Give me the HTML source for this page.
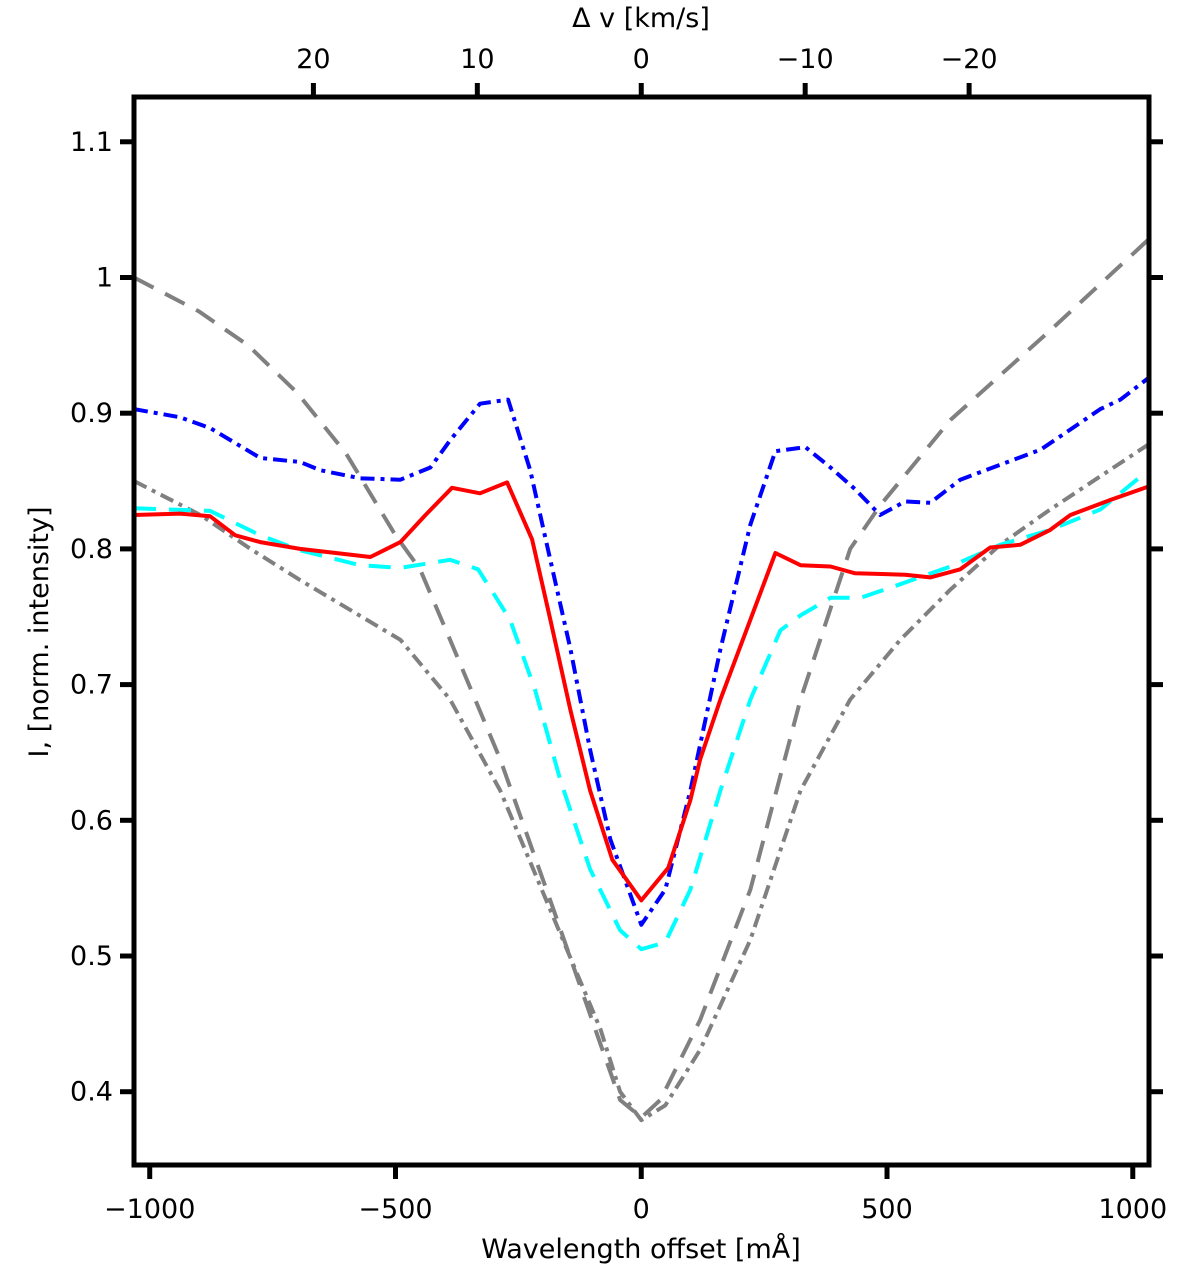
<!DOCTYPE html>
<html><head><meta charset="utf-8"><style>
html,body{margin:0;padding:0;background:#fff;}
svg text{font-family:"DejaVu Sans","Liberation Sans",sans-serif;fill:#000;}
</style></head><body>
<svg id="chart" width="1200" height="1279" xmlns="http://www.w3.org/2000/svg">
<g id="plot"></g>
</svg>
<script>
const xTicks=[-1000,-500,0,500,1000];
const yTicks=[0.4,0.5,0.6,0.7,0.8,0.9,1,1.1];
const yTickLabels=["0.4","0.5","0.6","0.7","0.8","0.9","1","1.1"];
const vTicks=[20,10,0,-10,-20];
const vTickLabels=["20","10","0","\u221210","\u221220"];
const grayDashX=[-1032,-900,-800,-700,-600,-500,-450,-389,-287,-185,-83,-43,0,39,120,222,324,425,486,629,832,1032];
const grayDashY=[1.0,0.975,0.95,0.915,0.87,0.81,0.785,0.733,0.645,0.541,0.435,0.394,0.381,0.394,0.453,0.549,0.689,0.80,0.832,0.895,0.961,1.028];
const grayDotX=[-1032,-897,-795,-694,-490,-389,-287,-185,-83,-43,0,49,120,222,324,425,527,629,730,832,1032];
const grayDotY=[0.85,0.825,0.80,0.777,0.733,0.689,0.622,0.534,0.446,0.40,0.379,0.39,0.431,0.512,0.622,0.689,0.733,0.770,0.803,0.829,0.877];
const blueX=[-1032,-938,-877,-775,-694,-653,-572,-490,-429,-389,-328,-271,-226,-185,-144,-104,-63,0,49,100,161,222,273,334,385,435,486,537,588,649,730,812,873,934,975,1032];
const blueY=[0.903,0.897,0.889,0.867,0.864,0.858,0.852,0.851,0.860,0.880,0.907,0.910,0.858,0.792,0.726,0.652,0.586,0.523,0.549,0.622,0.726,0.818,0.872,0.875,0.860,0.844,0.825,0.835,0.834,0.851,0.862,0.873,0.888,0.903,0.910,0.926];
const redX=[-1032,-938,-877,-826,-775,-694,-551,-490,-439,-385,-328,-273,-222,-185,-144,-104,-59,0,55,100,120,161,273,324,385,435,537,588,649,710,771,832,873,954,1032];
const redY=[0.825,0.826,0.824,0.810,0.805,0.800,0.794,0.805,0.825,0.845,0.841,0.849,0.807,0.748,0.681,0.622,0.571,0.541,0.565,0.615,0.645,0.689,0.797,0.788,0.787,0.782,0.781,0.779,0.785,0.801,0.803,0.814,0.825,0.836,0.846];
const cyanX=[-1032,-877,-775,-694,-572,-490,-389,-332,-267,-216,-165,-104,-43,0,49,100,161,222,283,324,385,446,527,629,730,832,934,1032];
const cyanY=[0.830,0.828,0.810,0.799,0.788,0.786,0.792,0.785,0.748,0.696,0.630,0.564,0.519,0.505,0.510,0.549,0.622,0.689,0.740,0.751,0.764,0.764,0.774,0.787,0.803,0.814,0.829,0.858];

const L=134,R=1149,T=97,B=1165;
const xMin=-1032,xMax=1033,yMin=0.346,yMax=1.133;
const mAperKms=33.35;
function sx(v){return L+(v-xMin)/(xMax-xMin)*(R-L);}
function sy(v){return B-(v-yMin)/(yMax-yMin)*(B-T);}
function sv(v){return sx(-v*mAperKms);}
const NS="http://www.w3.org/2000/svg";
const plot=document.getElementById('plot');
function mk(tag,attrs,parent){const e=document.createElementNS(NS,tag);for(const k in attrs)e.setAttribute(k,attrs[k]);(parent||plot).appendChild(e);return e;}

const clip=mk('clipPath',{id:'pc'});mk('rect',{x:L,y:T,width:R-L,height:B-T},clip);
function series(xs,ys,color,dash,name){
  const p=mk('polyline',{points:xs.map((x,i)=>sx(x).toFixed(1)+','+sy(ys[i]).toFixed(1)).join(' '),fill:'none',stroke:color,'stroke-width':4,'stroke-dasharray':dash,'stroke-linejoin':'round','clip-path':'url(#pc)'});
  
  
}
series(grayDashX,grayDashY,'#808080','22 13','gray-dashed-line');
series(grayDotX,grayDotY,'#808080','14 6 4 6','gray-dash-dot-line');
series(cyanX,cyanY,'#00ffff','22 13','cyan-dashed-line');
series(blueX,blueY,'#0000ff','14 6 4 6','blue-dash-dot-line');
series(redX,redY,'#ff0000','','red-solid-line');

const frame=mk('rect',{x:L,y:T,width:R-L,height:B-T,fill:'none',stroke:'#000','stroke-width':5});



xTicks.forEach(v=>{
  const x=sx(v);
  const t=mk('line',{x1:x,x2:x,y1:B,y2:B+14,stroke:'#000','stroke-width':5});
  
  
  const lb=mk('text',{x:x,y:1218,'font-size':27,'text-anchor':'middle'});
  lb.textContent=v<0?'\u2212'+Math.abs(v):String(v);
  
  
});
yTicks.forEach((v,i)=>{
  const y=sy(v);
  const t=mk('line',{x1:L-14,x2:L,y1:y,y2:y,stroke:'#000','stroke-width':5});
  
  
  const t2=mk('line',{x1:R,x2:R+14,y1:y,y2:y,stroke:'#000','stroke-width':5});
  
  
  const lb=mk('text',{x:113,y:y+9,'font-size':27,'text-anchor':'end'});
  lb.textContent=yTickLabels[i];
  
  
});
vTicks.forEach((v,i)=>{
  const x=sv(v);
  const t=mk('line',{x1:x,x2:x,y1:T-14,y2:T,stroke:'#000','stroke-width':5});
  
  
  const lb=mk('text',{x:x,y:68,'font-size':27,'text-anchor':'middle'});
  lb.textContent=vTickLabels[i];
  
  
});
const xt=mk('text',{x:641,y:1258,'font-size':27,'text-anchor':'middle'});
xt.textContent='Wavelength offset [mÅ]';


const tt=mk('text',{x:641,y:27,'font-size':27,'text-anchor':'middle'});
tt.textContent='\u0394 v [km/s]';


const yt=mk('text',{x:0,y:0,'font-size':27,'text-anchor':'middle',transform:'translate(48,632) rotate(-90)'});
yt.textContent='I, [norm. intensity]';


</script>
</body></html>
